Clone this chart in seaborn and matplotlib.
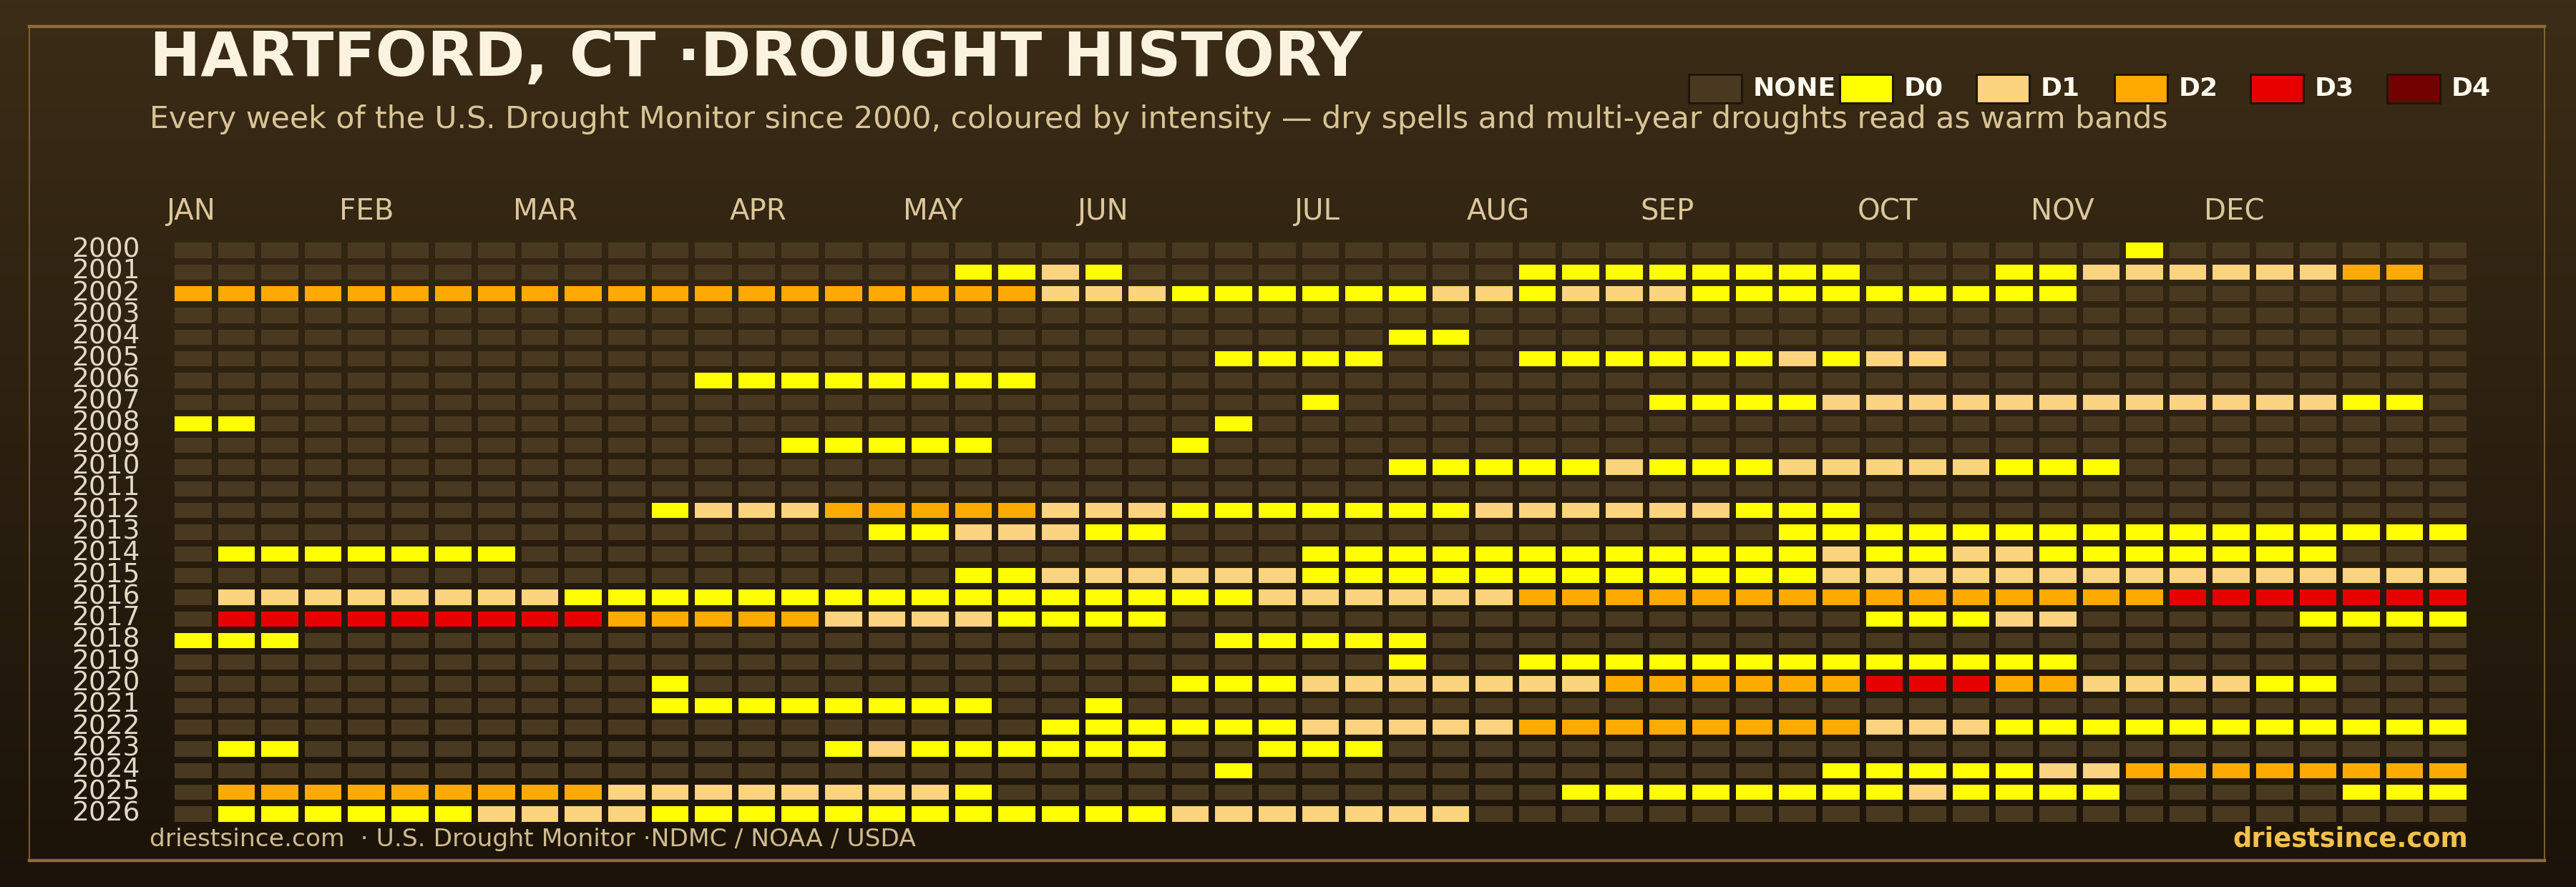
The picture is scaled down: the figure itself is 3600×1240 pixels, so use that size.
import numpy as np
import pandas as pd
import matplotlib
matplotlib.use("Agg")
import matplotlib.pyplot as plt
from matplotlib.colors import ListedColormap, LinearSegmentedColormap, to_rgb
from matplotlib.patches import Rectangle
from matplotlib.lines import Line2D
from matplotlib.transforms import ScaledTranslation
import seaborn as sns

# ========== 数据 ==========
years = list(range(2000, 2027))
levels = ["NONE", "D0", "D1", "D2", "D3", "D4"]
level_colors = ["#493920", "#ffff00", "#fcd37f", "#ffaa00", "#e60000", "#730000"]
month_labels = ["JAN", "FEB", "MAR", "APR", "MAY", "JUN",
                "JUL", "AUG", "SEP", "OCT", "NOV", "DEC"]
month_weeks = [0, 4, 8, 13, 17, 21, 26, 30, 34, 39, 43, 47]

# 每年 53 周的干旱等级 (0=NONE, 1=D0 ... 5=D4)，按 10 周一组书写
drought_rows = [
    "0000000000 0000000000 0000000000 0000000000 0000010000 000",  # 2000
    "0000000000 0000000011 2100000000 0111111110 0011222222 330",  # 2001
    "3333333333 3333333333 2221111112 2122211111 1111000000 000",  # 2002
    "0000000000 0000000000 0000000000 0000000000 0000000000 000",  # 2003
    "0000000000 0000000000 0000000011 0000000000 0000000000 000",  # 2004
    "0000000000 0000000000 0000111100 0111111212 2000000000 000",  # 2005
    "0000000000 0011111111 0000000000 0000000000 0000000000 000",  # 2006
    "0000000000 0000000000 0000001000 0000111122 2222222222 110",  # 2007
    "1100000000 0000000000 0000100000 0000000000 0000000000 000",  # 2008
    "0000000000 0000111110 0001000000 0000000000 0000000000 000",  # 2009
    "0000000000 0000000000 0000000011 1112111222 2211100000 000",  # 2010
    "0000000000 0000000000 0000000000 0000000000 0000000000 000",  # 2011
    "0000000000 0122233333 2221111111 2222221110 0000000000 000",  # 2012
    "0000000000 0000001122 2110000000 0000000111 1111111111 111",  # 2013
    "0111111100 0000000000 0000001111 1111111121 1221111111 000",  # 2014
    "0000000000 0000000011 2222221111 1111111122 2222222222 222",  # 2015
    "0222222221 1111111111 1111122222 2333333333 3333334444 444",  # 2016
    "0444444444 3333322221 1110000000 0000000001 1122000001 111",  # 2017
    "1110000000 0000000000 0000111110 0000000000 0000000000 000",  # 2018
    "0000000000 0000000000 0000000010 0111111111 1111000000 000",  # 2019
    "0000000000 0100000000 0001112222 2223333334 4433222211 000",  # 2020
    "0000000000 0111111110 0100000000 0000000000 0000000000 000",  # 2021
    "0000000000 0000000000 1111112222 2333333332 2211111111 111",  # 2022
    "0110000000 0000012111 1110011100 0000000000 0000000000 000",  # 2023
    "0000000000 0000000000 0000100000 0000000011 1112233333 333",  # 2024
    "0333333333 2222222210 0000000000 0011111111 2111100000 111",  # 2025
    "0111111222 2111111111 1112222222 0000000000 0000000000 000",  # 2026
]

# ========== 配色 / 尺寸 ==========
W_PX, H_PX = 3600, 1240
BG_TOP, BG_BOTTOM = "#3b2c16", "#1b1309"
BORDER = "#8b6d38"
TITLE_C = "#fbf3e0"
SUB_C = "#d8c496"
MONTH_C = "#dcc79c"
YEAR_C = "#e2d9c6"
FOOT_C = "#d0bb8f"
BRAND_C = "#f2c14e"

plt.rcParams["font.family"] = ["DejaVu Sans"]


def fx(x):
    return x / W_PX


def fy(y):
    return 1 - y / H_PX


rows = [[int(c) for c in r.replace(" ", "")] for r in drought_rows]
df = pd.DataFrame(rows, index=years, columns=range(1, 54))

fig = plt.figure(figsize=(W_PX / 100, H_PX / 100), dpi=100)

# 背景渐变
bg = fig.add_axes([0, 0, 1, 1], zorder=0)
bg_cmap = LinearSegmentedColormap.from_list("bg", [BG_TOP, BG_BOTTOM])
bg.imshow(np.linspace(0, 1, 256)[:, None], cmap=bg_cmap, aspect="auto",
          extent=[0, 1, 0, 1])
bg.axis("off")

# 外框
fig.add_artist(Line2D([fx(41), fx(3556)], [fy(37), fy(37)], transform=fig.transFigure,
                      color=BORDER, lw=3.2, zorder=1))
fig.add_artist(Line2D([fx(41), fx(3556)], [fy(1203), fy(1203)], transform=fig.transFigure,
                      color=BORDER, lw=3.2, zorder=1))
for xb in (41, 3556):
    fig.add_artist(Line2D([fx(xb), fx(xb)], [fy(37), fy(1203)], transform=fig.transFigure,
                          color=BORDER, lw=1.2, zorder=1))

# 热力图
ax_l, ax_r, ax_t, ax_b = 239, 3451, 334.4, 1152.5
ax = fig.add_axes([fx(ax_l), fy(ax_b), fx(ax_r) - fx(ax_l), fy(ax_t) - fy(ax_b)], zorder=2)
ax.patch.set_alpha(0)
sns.heatmap(df, cmap=ListedColormap(level_colors), vmin=-0.5, vmax=5.5, cbar=False,
            linewidths=6.2, linecolor=BG_BOTTOM, xticklabels=False, yticklabels=False,
            ax=ax)

# 格子间隙跟随背景渐变
mesh = ax.collections[0]
c_top, c_bot = np.array(to_rgb(BG_TOP)), np.array(to_rgb(BG_BOTTOM))
row_t = [(ax_t + (j + 0.5) * (ax_b - ax_t) / len(years)) / H_PX for j in range(len(years))]
row_cols = np.array([c_top + (c_bot - c_top) * t for t in row_t])
mesh.set_edgecolor(np.repeat(row_cols, df.shape[1], axis=0))

ax.set_xticks(month_weeks)
ax.set_xticklabels(month_labels, ha="left")
ax.xaxis.tick_top()
ax.tick_params(axis="x", length=0, pad=13, labelsize=29, labelcolor=MONTH_C)
shift = ScaledTranslation(-7 / 100, 0, fig.dpi_scale_trans)
for lbl in ax.get_xticklabels():
    lbl.set_transform(lbl.get_transform() + shift)
ax.set_yticks(np.arange(len(years)) + 0.5)
ax.set_yticklabels(years, rotation=0, va="center")
ax.tick_params(axis="y", length=0, pad=31, labelsize=27, labelcolor=YEAR_C)
ax.set_xlim(0, df.shape[1])
ax.set_ylim(len(years), 0)
ax.set_xlabel("")
ax.set_ylabel("")
for s in ax.spines.values():
    s.set_visible(False)

# 标题
fig.text(fx(209), fy(106), "HARTFORD, CT ·DROUGHT HISTORY", fontsize=61.4,
         fontweight="bold", color=TITLE_C, va="baseline", ha="left", zorder=3)
fig.text(fx(209), fy(179),
         "Every week of the U.S. Drought Monitor since 2000, coloured by intensity \u2014 "
         "dry spells and multi-year droughts read as warm bands",
         fontsize=30.7, color=SUB_C, va="baseline", ha="left", zorder=3)

# 图例
leg_x = [2360, 2571, 2762, 2955, 3145, 3336]
for x0, lab, col in zip(leg_x, levels, level_colors):
    fig.add_artist(Rectangle((fx(x0), fy(144)), fx(74), 40 / H_PX, transform=fig.transFigure,
                             facecolor=col, edgecolor="#1e160b", lw=2.2, zorder=3))
    fig.text(fx(x0 + 90), fy(124), lab, fontsize=26, fontweight="bold", color="#fffaf0",
             va="center", ha="left", zorder=3)

# 脚注
fig.text(fx(209), fy(1183), "driestsince.com  \u00b7 U.S. Drought Monitor \u00b7NDMC / NOAA / USDA",
         fontsize=24.8, color=FOOT_C, va="baseline", ha="left", zorder=3)
fig.text(fx(3449), fy(1183), "driestsince.com", fontsize=26.5, fontweight="bold",
         color=BRAND_C, va="baseline", ha="right", zorder=3)

fig.savefig("out.png", dpi=100)
